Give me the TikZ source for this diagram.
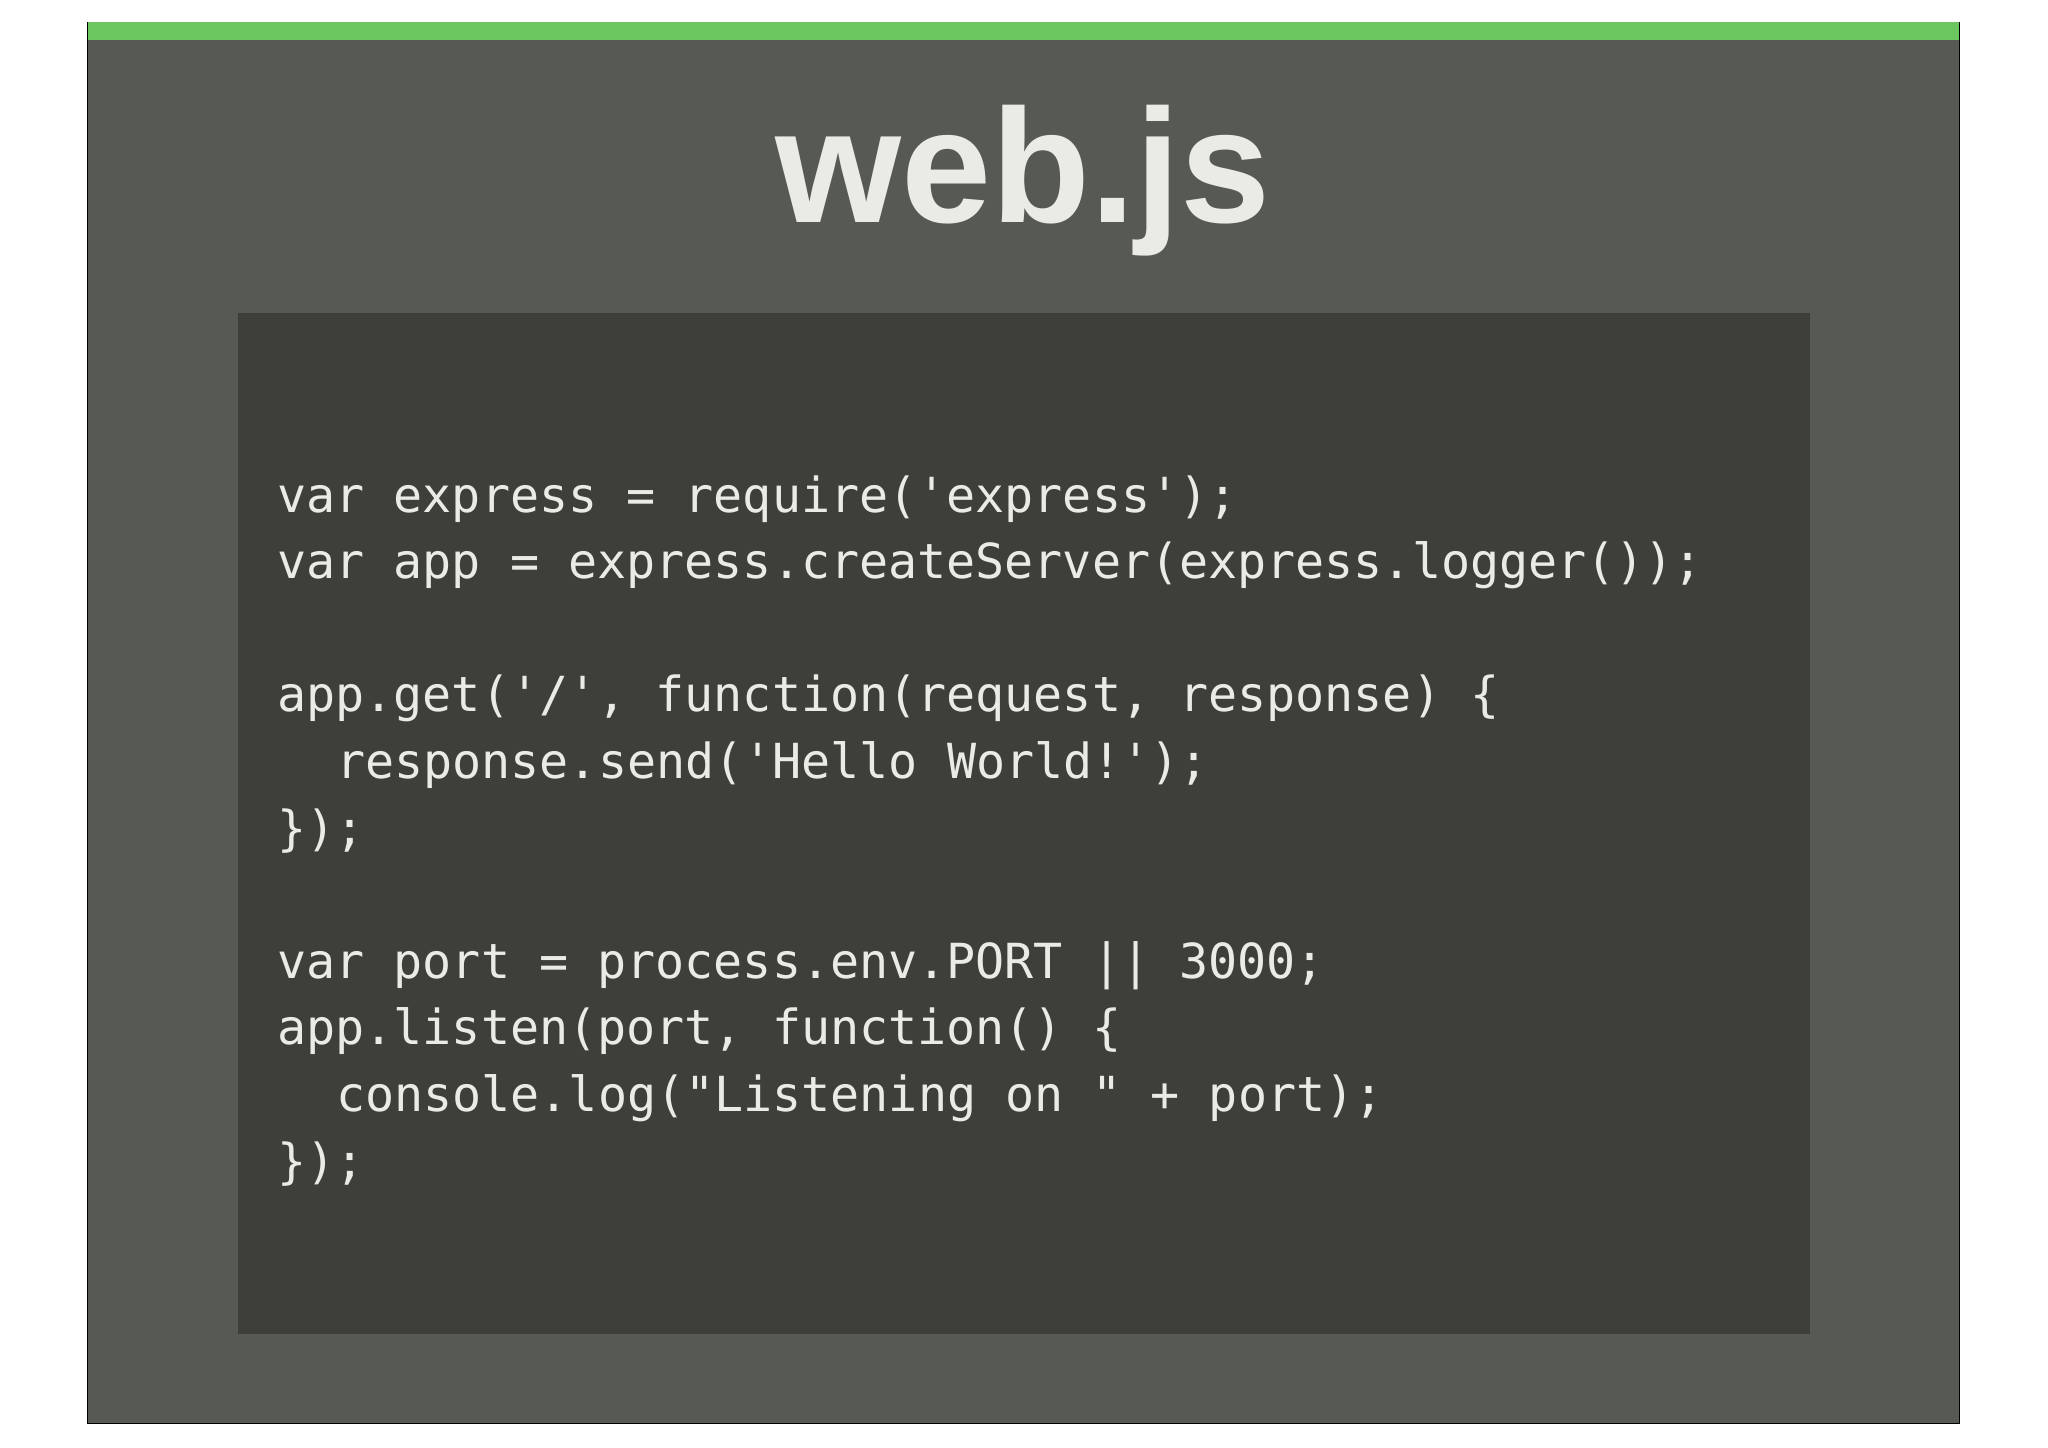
\documentclass[tikz,border=0pt]{standalone}
\usepackage{fontspec}
\newfontfamily\code{DejaVu Sans Mono}
\newfontfamily\titlefont{Liberation Sans}
\definecolor{outerbg}{HTML}{565A52}
\definecolor{codebg}{HTML}{3E3F3A}
\definecolor{topgreen}{HTML}{6CC65F}
\definecolor{txt}{HTML}{EBEBE6}
\begin{document}
\begin{tikzpicture}[x=0.5pt,y=-0.5pt,
  codeline/.style={anchor=base west,inner sep=0pt,text=txt,font=\code\fontsize{18.5pt}{20pt}\selectfont}]
\useasboundingbox[fill=white] (0,0) rectangle (1568,1108);
\fill[outerbg,draw=black,line width=0.5pt] (67,17) rectangle (1500,1090);
\fill[topgreen] (67,17) rectangle (1500,31);
\node[text=txt,font=\titlefont\bfseries\fontsize{62pt}{64pt}\selectfont,inner sep=0pt] (title) at (783,138) {web.js};
\fill[codebg] (182,240) rectangle (1386,1021);
\node[codeline] (l1) at (212,392) {var express = require('express');};
\node[codeline] (l2) at (212,443) {var app = express.createServer(express.logger());};
\node[codeline] (l4) at (212,545) {app.get('/', function(request, response) \{};
\node[codeline] (l5) at (257,596) {response.send('Hello World!');};
\node[codeline] (l6) at (212,647) {\});};
\node[codeline] (l8) at (212,749) {var port = process.env.PORT || 3000;};
\node[codeline] (l9) at (212,800) {app.listen(port, function() \{};
\node[codeline] (l10) at (257,851) {console.log("Listening on " + port);};
\node[codeline] (l11) at (212,902) {\});};
\end{tikzpicture}
\end{document}
